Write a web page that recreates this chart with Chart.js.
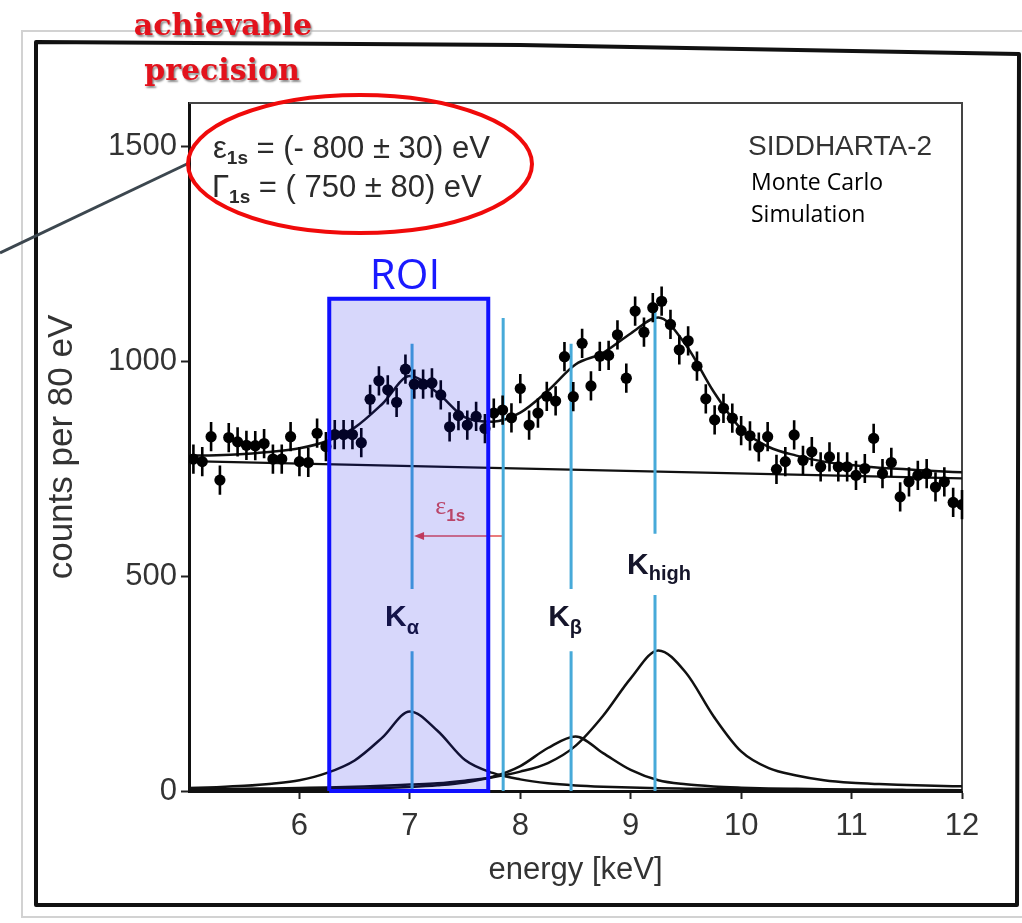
<!DOCTYPE html>
<html>
<head>
<meta charset="utf-8">
<title>SIDDHARTA-2 Monte Carlo</title>
<script src="https://cdn.jsdelivr.net/npm/chart.js@4.4.1/dist/chart.umd.min.js"></script>
<style>
  html, body { margin: 0; padding: 0; background: #fff; }
  #wrap { position: relative; width: 1022px; height: 923px; }
</style>
</head>
<body>
<div id="wrap"><canvas id="chart" width="1022" height="923"></canvas></div>
<script>
// Datos del espectro simulado (counts per 80 eV)
const binEnergy = [5.04, 5.12, 5.20, 5.28, 5.36, 5.44, 5.52, 5.60, 5.68, 5.76, 5.84, 5.92,
  6.00, 6.08, 6.16, 6.24, 6.32, 6.40, 6.48, 6.56, 6.64, 6.72, 6.80, 6.88, 6.96,
  7.04, 7.12, 7.20, 7.28, 7.36, 7.44, 7.52, 7.60, 7.68, 7.76, 7.84, 7.92,
  8.00, 8.08, 8.16, 8.24, 8.32, 8.40, 8.48, 8.56, 8.64, 8.72, 8.80, 8.88, 8.96,
  9.04, 9.12, 9.20, 9.28, 9.36, 9.44, 9.52, 9.60, 9.68, 9.76, 9.84, 9.92,
  10.00, 10.08, 10.16, 10.24, 10.32, 10.40, 10.48, 10.56, 10.64, 10.72, 10.80, 10.88, 10.96,
  11.04, 11.12, 11.20, 11.28, 11.36, 11.44, 11.52, 11.60, 11.68, 11.76, 11.84, 11.92, 12.00];
const binCounts = [772, 766, 824, 723, 822, 812, 804, 803, 808, 772, 772, 824,
  766, 764, 832, 801, 829, 829, 829, 810, 911, 954, 933, 904, 981,
  946, 946, 949, 921, 847, 873, 851, 871, 843, 879, 886, 868,
  936, 851, 879, 918, 907, 1010, 917, 1041, 942, 1011, 1013, 1061, 960,
  1116, 1067, 1124, 1139, 1085, 1026, 1047, 988, 912, 863, 890, 867,
  838, 826, 800, 824, 748, 766, 828, 769, 789, 754, 777, 754, 754,
  734, 750, 820, 738, 764, 684, 719, 734, 738, 707, 719, 671, 666];
const countError = 34;

// Curvas del ajuste
const fitEnergy = [5.00, 5.25, 5.50, 5.75, 6.00, 6.25, 6.50, 6.75, 7.00, 7.25, 7.50, 7.75,
  8.00, 8.25, 8.50, 8.75, 9.00, 9.25, 9.50, 9.75, 10.00, 10.25, 10.50, 10.75,
  11.00, 11.25, 11.50, 11.75, 12.00];
const fitTotal = [780, 781, 784, 789, 797, 814, 845, 900, 965, 926, 869, 859,
  880, 931, 992, 1019, 1064, 1101, 1037, 929, 842, 800, 780, 766,
  758, 752, 748, 744, 741];
const peakKalpha = [7, 9, 12, 17, 25, 42, 71, 124, 185, 140, 72, 42,
  27, 18, 13, 10, 8, 6.5, 5.5, 4.6, 4, 3.5, 3, 2.7,
  2.4, 2.1, 1.9, 1.7, 1.5];
const peakKbeta = [2, 2.2, 2.5, 2.9, 3.5, 4.2, 5.2, 6.8, 9.5, 13.5, 20, 33,
  58, 100, 127, 88, 49, 25, 15.5, 10.5, 7.8, 6, 5, 4.2,
  3.5, 3, 2.6, 2.3, 2];
const peakKhigh = [4, 4.5, 5, 6, 7, 8, 10, 12, 15, 18, 24, 32,
  45, 65, 105, 175, 262, 327, 275, 174, 92, 53, 36, 25,
  19, 16, 14, 12, 11];
const backgroundEnergy = [5, 12];
const backgroundCounts = [767, 727];

// Transiciones (keV) y ROI
const transitionEnergy = [7.02, 7.845, 8.46, 9.22];
const roiRange = [6.27, 7.71];

const xTicks = [6, 7, 8, 9, 10, 11, 12];
const yTicks = [0, 500, 1000, 1500];

const pts = (xs, ys) => xs.map((x, i) => ({ x: x, y: ys[i] }));

// Línea vertical azul con hueco para la etiqueta
function transitionLine(e, top, gapLow, gapHigh) {
  const data = [{ x: e, y: 0 }];
  if (gapLow !== undefined) {
    data.push({ x: e, y: gapLow }, { x: e, y: null }, { x: e, y: gapHigh });
  }
  data.push({ x: e, y: top });
  return {
    data: data, borderColor: "#47aad9", borderWidth: 3, pointRadius: 0,
    spanGaps: false, fill: false
  };
}

function curve(ys, width) {
  return {
    data: pts(fitEnergy, ys), borderColor: "#111", borderWidth: width,
    pointRadius: 0, cubicInterpolationMode: "monotone", fill: false
  };
}

// texto con subíndices
function drawRich(ctx, x, y, parts, align) {
  let w = 0;
  parts.forEach(p => { ctx.font = p.font; p.w = ctx.measureText(p.text).width; w += p.w; });
  let cx = align === "center" ? x - w / 2 : x;
  ctx.textAlign = "left";
  ctx.textBaseline = "alphabetic";
  parts.forEach(p => {
    ctx.font = p.font;
    ctx.fillStyle = p.color;
    ctx.fillText(p.text, cx, y + (p.dy || 0));
    cx += p.w;
  });
}

const decorPlugin = {
  id: "decor",
  beforeDraw(chart) {
    const ctx = chart.ctx;
    ctx.save();
    ctx.fillStyle = "#fff";
    ctx.fillRect(0, 0, chart.width, chart.height);
    // borde gris de la página
    ctx.strokeStyle = "#d2d2d2";
    ctx.lineWidth = 2;
    ctx.beginPath();
    ctx.moveTo(1022, 31); ctx.lineTo(22, 31); ctx.lineTo(22, 917); ctx.lineTo(1022, 917);
    ctx.stroke();
    // marco negro
    ctx.strokeStyle = "#111";
    ctx.lineWidth = 4;
    ctx.lineJoin = "round";
    ctx.beginPath();
    ctx.moveTo(36, 905); ctx.lineTo(36, 42); ctx.lineTo(520, 45); ctx.lineTo(1019, 54);
    ctx.lineTo(1017, 905); ctx.closePath();
    ctx.stroke();
    ctx.restore();
  },
  beforeDatasetsDraw(chart) {
    const ctx = chart.ctx;
    const a = chart.chartArea;
    const xs = chart.scales.x, ys = chart.scales.y;
    ctx.save();
    // marco superior y derecho del gráfico
    ctx.strokeStyle = "#444";
    ctx.lineWidth = 2;
    ctx.beginPath();
    ctx.moveTo(a.left, a.top); ctx.lineTo(a.right, a.top); ctx.lineTo(a.right, a.bottom);
    ctx.stroke();

    // etiquetas K
    const kFont = "bold 30px 'Liberation Sans', Arial, sans-serif";
    const sFont = "bold 20px 'Liberation Sans', Arial, sans-serif";
    const kc = "#15152a";
    drawRich(ctx, xs.getPixelForValue(transitionEnergy[0]) - 10, ys.getPixelForValue(383),
      [{ text: "K", font: kFont, color: kc }, { text: "α", font: sFont, color: kc, dy: 8 }], "center");
    drawRich(ctx, xs.getPixelForValue(transitionEnergy[2]) - 6, ys.getPixelForValue(383),
      [{ text: "K", font: kFont, color: kc }, { text: "β", font: sFont, color: kc, dy: 8 }], "center");
    drawRich(ctx, xs.getPixelForValue(transitionEnergy[3]) + 4, ys.getPixelForValue(505),
      [{ text: "K", font: kFont, color: kc }, { text: "high", font: sFont, color: kc, dy: 6 }], "center");

    // flecha del desplazamiento
    const ay = ys.getPixelForValue(593);
    const ax0 = xs.getPixelForValue(transitionEnergy[1]);
    const ax1 = xs.getPixelForValue(transitionEnergy[0]) + 2;
    ctx.strokeStyle = "rgba(225,60,60,0.9)";
    ctx.fillStyle = "rgba(225,60,60,0.95)";
    ctx.lineWidth = 1.6;
    ctx.beginPath(); ctx.moveTo(ax0, ay); ctx.lineTo(ax1 + 6, ay); ctx.stroke();
    ctx.beginPath(); ctx.moveTo(ax1, ay); ctx.lineTo(ax1 + 10, ay - 4); ctx.lineTo(ax1 + 10, ay + 4);
    ctx.closePath(); ctx.fill();
    drawRich(ctx, xs.getPixelForValue(7.23), ys.getPixelForValue(645), [
      { text: "ε", font: "26px 'Liberation Serif', serif", color: "#dc5050" },
      { text: "1s", font: "bold 17px 'Liberation Sans', Arial, sans-serif", color: "#dc5050", dy: 7 }
    ], "left");
    ctx.restore();
  },
  afterDatasetDraw(chart, args) {
    // barras de error de los datos
    if (chart.data.datasets[args.index].label !== "data") return;
    const ctx = chart.ctx;
    const xs = chart.scales.x, ys = chart.scales.y;
    ctx.save();
    ctx.strokeStyle = "#000";
    ctx.lineWidth = 2.6;
    ctx.beginPath();
    binEnergy.forEach((e, i) => {
      const px = xs.getPixelForValue(e);
      ctx.moveTo(px, ys.getPixelForValue(binCounts[i] - countError));
      ctx.lineTo(px, ys.getPixelForValue(binCounts[i] + countError));
    });
    ctx.stroke();
    ctx.restore();
  },
  afterDraw(chart) {
    const ctx = chart.ctx;
    ctx.save();
    // "achievable precision"
    ctx.font = "bold 30px 'DejaVu Serif', serif";
    ctx.textAlign = "center";
    ctx.textBaseline = "alphabetic";
    ctx.fillStyle = "#e3121c";
    ctx.shadowColor = "rgba(0,0,0,0.45)";
    ctx.shadowOffsetX = 1.5;
    ctx.shadowOffsetY = 1.5;
    ctx.shadowBlur = 2;
    ctx.fillText("achievable", 223, 35);
    ctx.fillText("precision", 222, 80);
    ctx.shadowColor = "transparent";

    // línea gris hacia la elipse
    ctx.strokeStyle = "#3c474f";
    ctx.lineWidth = 3;
    ctx.beginPath(); ctx.moveTo(0, 253); ctx.lineTo(189, 163); ctx.stroke();

    // resultados
    const tf = "31px 'Liberation Sans', Arial, sans-serif";
    const sf = "bold 19px 'Liberation Sans', Arial, sans-serif";
    const tc = "#2b2b2b";
    drawRich(ctx, 213, 158, [
      { text: "ε", font: tf, color: tc },
      { text: "1s", font: sf, color: tc, dy: 6 },
      { text: " = (- 800 ± 30) eV", font: tf, color: tc }
    ], "left");
    drawRich(ctx, 212, 197, [
      { text: "Γ", font: tf, color: tc },
      { text: "1s", font: sf, color: tc, dy: 6 },
      { text: " = ( 750 ± 80) eV", font: tf, color: tc }
    ], "left");

    // elipse roja
    ctx.strokeStyle = "#f00a0a";
    ctx.lineWidth = 4;
    ctx.beginPath();
    ctx.ellipse(360, 164, 172, 69, 0, 0, Math.PI * 2);
    ctx.stroke();

    // texto SIDDHARTA-2
    ctx.textAlign = "left";
    ctx.fillStyle = "#333";
    ctx.font = "28px 'Liberation Sans', Arial, sans-serif";
    ctx.fillText("SIDDHARTA-2", 748, 155);
    ctx.fillStyle = "#000";
    ctx.font = "23px 'Open Sans', sans-serif";
    ctx.fillText("Monte Carlo", 751, 190);
    ctx.fillText("Simulation", 751, 222);

    // ROI
    ctx.fillStyle = "#1a1aff";
    ctx.font = "42px 'Open Sans', sans-serif";
    ctx.textAlign = "center";
    ctx.fillText("ROI", 405, 289);
    ctx.restore();
  }
};

const datasets = [
  {
    // borde de la caja ROI
    data: [{ x: roiRange[0], y: 0 }, { x: roiRange[0], y: 1145 }, { x: roiRange[1], y: 1145 },
      { x: roiRange[1], y: 0 }, { x: roiRange[0], y: 0 }],
    borderColor: "#1010ff", borderWidth: 4, fill: false, pointRadius: 0,
    clip: false, borderJoinStyle: "miter"
  },
  {
    // relleno de la caja ROI
    data: [{ x: roiRange[0], y: 1145 }, { x: roiRange[1], y: 1145 }],
    borderWidth: 0, borderColor: "rgba(0,0,0,0)", backgroundColor: "rgba(20,20,230,0.17)",
    fill: "origin", pointRadius: 0
  },
  {
    label: "data",
    data: pts(binEnergy, binCounts),
    showLine: false, pointRadius: 5.6, pointBackgroundColor: "#000",
    pointBorderWidth: 0, borderColor: "#000"
  },
  transitionLine(transitionEnergy[0], 1040, 325, 470),
  transitionLine(transitionEnergy[1], 1100),
  transitionLine(transitionEnergy[2], 1040, 325, 470),
  transitionLine(transitionEnergy[3], 1125, 456, 598),
  curve(fitTotal, 2.5),
  {
    data: pts(backgroundEnergy, backgroundCounts), borderColor: "#111", borderWidth: 2.2,
    pointRadius: 0, fill: false
  },
  curve(peakKalpha, 2.5),
  curve(peakKbeta, 2.5),
  curve(peakKhigh, 2.5)
];

const axisFont = { family: "'Liberation Sans', Arial, sans-serif", size: 31 };
const titleFontY = { family: "'Liberation Sans', Arial, sans-serif", size: 35 };

new Chart(document.getElementById("chart").getContext("2d"), {
  type: "line",
  data: { datasets: datasets },
  options: {
    responsive: false,
    animation: false,
    events: [],
    layout: { padding: { top: 103, right: 60, left: 0, bottom: 0 } },
    plugins: { legend: { display: false }, tooltip: { enabled: false } },
    scales: {
      x: {
        type: "linear", min: 5, max: 12,
        afterBuildTicks: (s) => { s.ticks = xTicks.map(v => ({ value: v })); },
        afterFit: (s) => { s.height = 132; },
        ticks: { font: axisFont, color: "#333", padding: 9, maxRotation: 0, callback: (v) => String(v) },
        grid: { drawOnChartArea: false, drawTicks: true, tickLength: 8, tickColor: "#222", tickWidth: 2 },
        border: { color: "#111", width: 3 },
        title: { display: true, text: "energy [keV]", font: axisFont, color: "#333", padding: { top: 0, bottom: 34 } }
      },
      y: {
        type: "linear", min: 0, max: 1600,
        afterBuildTicks: (s) => { s.ticks = yTicks.map(v => ({ value: v })); },
        afterFit: (s) => { s.width = 189; },
        ticks: { font: axisFont, color: "#333", padding: 4, callback: (v) => String(v) },
        grid: { drawOnChartArea: false, drawTicks: true, tickLength: 8, tickColor: "#222", tickWidth: 2 },
        border: { color: "#111", width: 3 },
        title: { display: true, text: "counts per 80 eV", font: titleFontY, color: "#333", padding: { top: 41, bottom: 0 } }
      }
    }
  },
  plugins: [decorPlugin]
});
</script>
</body>
</html>
